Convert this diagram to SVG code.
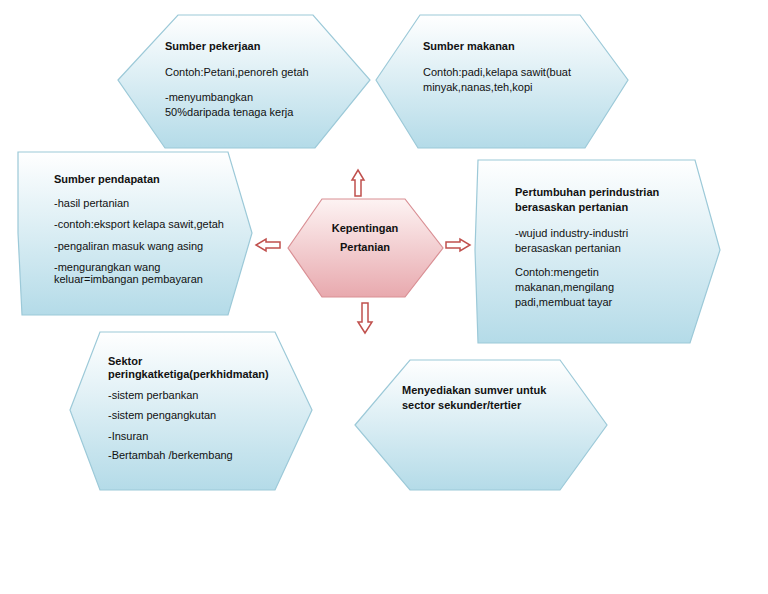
<svg xmlns="http://www.w3.org/2000/svg" width="768" height="594" viewBox="0 0 768 594">
<defs>
<linearGradient id="blue" x1="0" y1="0" x2="0" y2="1"><stop offset="0" stop-color="#ffffff"/><stop offset="1" stop-color="#b4dbe8"/></linearGradient>
<linearGradient id="pink" x1="0" y1="0" x2="0" y2="1"><stop offset="0" stop-color="#fdf3f3"/><stop offset="1" stop-color="#e8a9ae"/></linearGradient>
</defs>
<style>
.hex{fill:url(#blue);stroke:#9cc9d8;stroke-width:1.2}
.t{font-family:"Liberation Sans",Arial,sans-serif;font-size:11px;fill:#111}
.b{font-weight:bold}
.arr{fill:#fff;stroke:#c0504d;stroke-width:1.5}
</style>
<rect width="768" height="594" fill="#fff"/>
<g id="connectors">
<path class="arr" d="M355,196 V180 H352 L358,170 L364,180 H361 V196 Z"/>
<path class="arr" d="M280,242 H266 V239 L256,245 L266,251 V248 H280 Z"/>
<path class="arr" d="M446,242 H460 V239 L470,245 L460,251 V248 H446 Z"/>
<path class="arr" d="M362,303 V322 H358 L365,333 L372,322 H368 V303 Z"/>
</g>
<g id="center">
<polygon points="288,248 322,199 405,199 443,248 405,297 322,297" fill="url(#pink)" stroke="#d98f94" stroke-width="1.2"/>
<text class="t b" x="365" y="232" text-anchor="middle" font-size="15">Kepentingan</text>
<text class="t b" x="365" y="251" text-anchor="middle" font-size="15">Pertanian</text>
</g>
<g id="n1">
<polygon class="hex" points="118,80 178,15 313,15 370,80 315,148 165,148"/>
<text class="t b" x="165" y="50">Sumber pekerjaan</text>
<text class="t" x="165" y="76">Contoh:Petani,penoreh getah</text>
<text class="t" x="165" y="101">-menyumbangkan</text>
<text class="t" x="165" y="116">50%daripada tenaga kerja</text>
</g>
<g id="n2">
<polygon class="hex" points="376,80 420,15 580,15 628,80 585,148 418,148"/>
<text class="t b" x="423" y="50">Sumber makanan</text>
<text class="t" x="423" y="76">Contoh:padi,kelapa sawit(buat</text>
<text class="t" x="423" y="91">minyak,nanas,teh,kopi</text>
</g>
<g id="n3">
<polygon class="hex" points="18,152 228,152 252,233 228,315 22,315 18,233"/>
<text class="t b" x="54" y="183" font-size="10">Sumber pendapatan</text>
<text class="t" x="54" y="207" font-size="10">-hasil pertanian</text>
<text class="t" x="54" y="228" font-size="10">-contoh:eksport kelapa sawit,getah</text>
<text class="t" x="54" y="250" font-size="10">-pengaliran masuk wang asing</text>
<text class="t" x="54" y="271" font-size="10">-mengurangkan wang</text>
<text class="t" x="54" y="283" font-size="10">keluar=imbangan pembayaran</text>
</g>
<g id="n4">
<polygon class="hex" points="478,160 695,160 720,250 690,343 478,343 475,250"/>
<text class="t b" x="515" y="196">Pertumbuhan perindustrian</text>
<text class="t b" x="515" y="211">berasaskan pertanian</text>
<text class="t" x="515" y="237">-wujud industry-industri</text>
<text class="t" x="515" y="252">berasaskan pertanian</text>
<text class="t" x="515" y="276">Contoh:mengetin</text>
<text class="t" x="515" y="291">makanan,mengilang</text>
<text class="t" x="515" y="306">padi,membuat tayar</text>
</g>
<g id="n5">
<polygon class="hex" points="70,410 100,332 275,332 312,410 275,490 100,490"/>
<text class="t b" x="108" y="365" font-size="10">Sektor</text>
<text class="t b" x="108" y="378" font-size="10">peringkatketiga(perkhidmatan)</text>
<text class="t" x="108" y="399" font-size="10">-sistem perbankan</text>
<text class="t" x="108" y="419" font-size="10">-sistem pengangkutan</text>
<text class="t" x="108" y="440" font-size="10">-Insuran</text>
<text class="t" x="108" y="459" font-size="10">-Bertambah /berkembang</text>
</g>
<g id="n6">
<polygon class="hex" points="355,425 410,360 560,360 607,425 560,490 410,490"/>
<text class="t b" x="402" y="394">Menyediakan sumver untuk</text>
<text class="t b" x="402" y="409">sector sekunder/tertier</text>
</g>
</svg>
